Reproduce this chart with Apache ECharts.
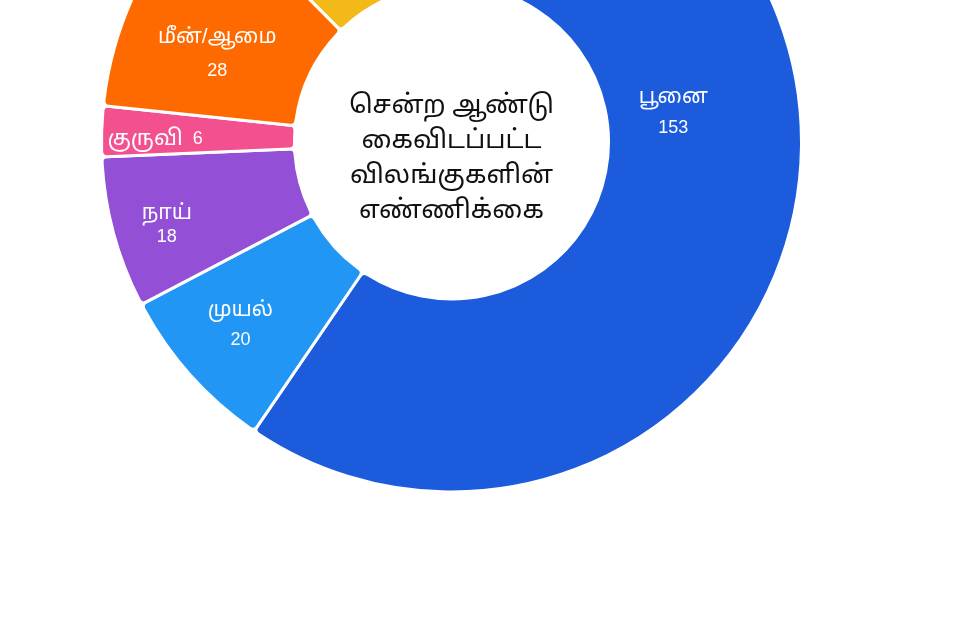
<!DOCTYPE html>
<html>
<head>
<meta charset="utf-8">
<script src="https://cdn.jsdelivr.net/npm/echarts@6/dist/echarts.min.js"></script>
<style>
  html, body { margin: 0; padding: 0; background: #ffffff; }
  #chart { width: 960px; height: 640px; }
</style>
</head>
<body>
<div id="chart"></div>
<script>
// Animals given up last year, by kind
const animals = ['பூனை', 'முயல்', 'நாய்', 'குருவி', 'மீன்/ஆமை', 'மற்றவை'];
const counts = [153, 20, 18, 6, 28, 32];
const colors = ['#1c5cdc', '#2196f4', '#9350d6', '#f2508e', '#ff6a00', '#f2b918'];
const centerTitle = ['சென்ற ஆண்டு', 'கைவிடப்பட்ட', 'விலங்குகளின்', 'எண்ணிக்கை'];

const CX = 451.5, CY = 142, R_IN = 157, R_OUT = 350;
const FONT = '"Noto Sans Tamil", "Noto Sans", "Liberation Sans", sans-serif';
const LABEL_FONT = '"Liberation Sans", "Noto Sans Tamil", sans-serif';

// where each label sits in the ring: [angle in degrees clockwise from top, radius]
const labelSpots = [[82, 224], [229.4, 278], [254.1, 296], [271, 296.5], [291, 251], null];
// gap between name and value lines for each label
const labelGaps = [31, 30, 23, 0, 34, 30];

const chart = echarts.init(document.getElementById('chart'), null, { renderer: 'canvas' });

const data = animals.map((name, i) => {
  const item = {
    name: name,
    value: counts[i],
    itemStyle: { color: colors[i] },
    label: {
      formatter: '{n|{b}}\n{v|{c}}',
      rich: {
        n: { fontSize: 21, color: '#ffffff', fontFamily: LABEL_FONT, lineHeight: labelGaps[i] },
        v: { fontSize: 18, color: '#ffffff', fontFamily: LABEL_FONT, lineHeight: labelGaps[i] }
      }
    }
  };
  if (name === 'குருவி') {
    // thin slice: name and value on one line
    item.label = {
      formatter: '{n|{b}}   {v|{c}}',
      rich: {
        n: { fontSize: 22, color: '#ffffff', fontFamily: LABEL_FONT },
        v: { fontSize: 18, color: '#ffffff', fontFamily: LABEL_FONT }
      }
    };
  }
  return item;
});

chart.setOption({
  backgroundColor: '#ffffff',
  animation: false,
  graphic: [{
    type: 'text',
    x: CX,
    y: CY + 18,
    style: {
      text: centerTitle.join('\n'),
      fill: '#111111',
      font: '26px ' + FONT,
      lineHeight: 35,
      textAlign: 'center',
      textVerticalAlign: 'middle'
    }
  }],
  series: [{
    type: 'pie',
    center: [CX, CY],
    radius: [R_IN, R_OUT],
    startAngle: 90,
    clockwise: true,
    avoidLabelOverlap: false,
    itemStyle: { borderColor: '#ffffff', borderWidth: 3, borderRadius: 5 },
    label: {
      show: true,
      position: 'inside',
      color: '#ffffff'
    },
    labelLine: { show: false },
    labelLayout: function (p) {
      const spot = labelSpots[p.dataIndex];
      if (!spot) return {};
      const a = spot[0] * Math.PI / 180;
      return {
        x: CX + spot[1] * Math.sin(a),
        y: CY - spot[1] * Math.cos(a) + 2,
        align: 'center',
        verticalAlign: 'middle'
      };
    },
    data: data
  }]
});
</script>
</body>
</html>
